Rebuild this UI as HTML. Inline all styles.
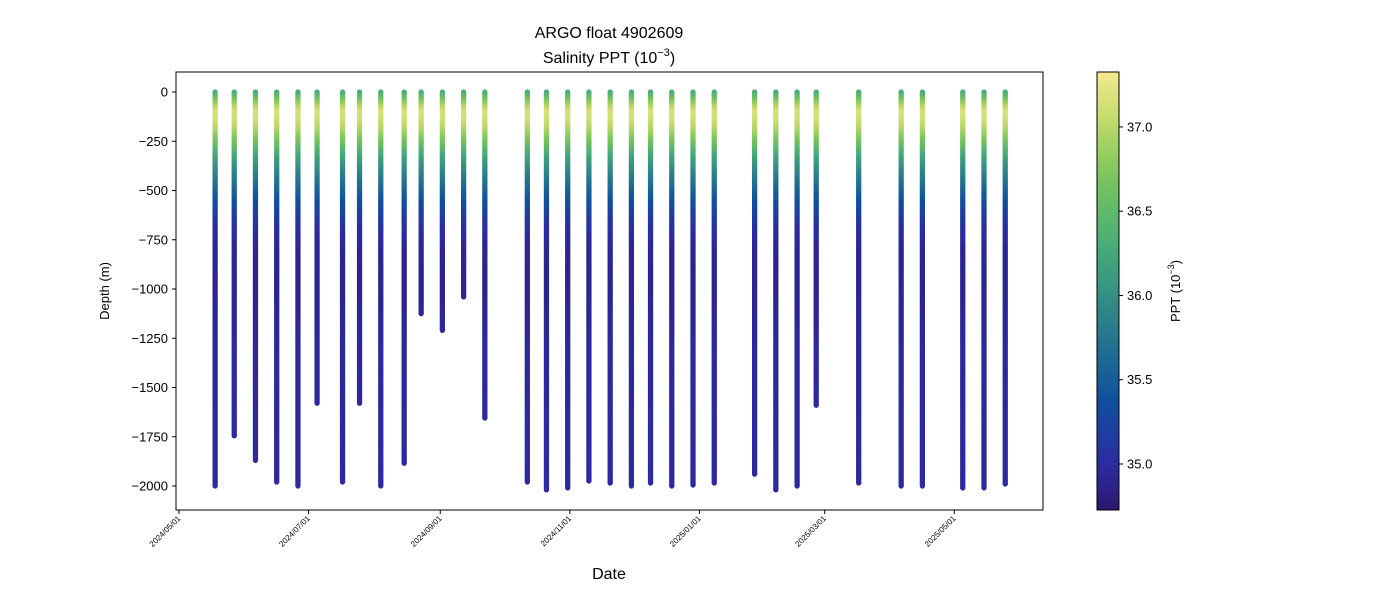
<!DOCTYPE html>
<html><head><meta charset="utf-8"><style>
body{margin:0;background:#fff;font-family:"Liberation Sans","DejaVu Sans",sans-serif}
svg text{font-family:"Liberation Sans","DejaVu Sans",sans-serif}
</style></head><body>
<svg id="chart" width="1400" height="600" viewBox="0 0 1400 600">
<text x="609" y="38" font-size="16" text-anchor="middle">ARGO float 4902609</text>
<text x="609" y="63" font-size="16" text-anchor="middle">Salinity PPT (10<tspan dy="-7" font-size="11">−3</tspan><tspan dy="7">)</tspan></text>
<text x="609" y="579" font-size="16" text-anchor="middle">Date</text>
<text transform="translate(109,291) rotate(-90)" font-size="13" text-anchor="middle">Depth (m)</text>
<g id="profiles"></g>
<rect x="176" y="72" width="867" height="438" fill="none" stroke="#000" stroke-width="1"/>
<g id="yaxis"></g>
<g id="xaxis"></g>
<defs><linearGradient id="cbg" x1="0" y1="1" x2="0" y2="0"></linearGradient></defs>
<rect x="1097" y="72" width="22" height="438" fill="url(#cbg)" stroke="#000" stroke-width="1"/>
<g id="cbaxis"></g>
<text transform="translate(1180,291) rotate(-90)" font-size="13" text-anchor="middle">PPT (10<tspan dy="-6" font-size="9">−3</tspan><tspan dy="6">)</tspan></text>
</svg>
<script>
const profileDays=[17,26,36,46,56,65,77,85,95,106,114,124,134,144,164,173,183,193,203,213,222,232,242,252,271,281,291,300,320,340,350,369,379,389];
const profileMaxDepth=[2000,1745,1870,1980,2000,1580,1980,1580,2000,1885,1125,1210,1040,1655,1980,2020,2010,1975,1985,2000,1985,2000,1995,1985,1940,2020,2000,1590,1985,2000,2000,2010,2010,1990];
const templateDepths=[0,20,60,100,140,190,250,330,420,500,580,680,800,1000,1300,2000];
const templateSal=[36.3,36.5,36.9,37.15,37.1,36.95,36.65,36.2,35.85,35.55,35.3,35.05,34.92,34.9,34.97,34.98];
const yTicks=[0,-250,-500,-750,-1000,-1250,-1500,-1750,-2000];
const xTickLabels=["2024/05/01","2024/07/01","2024/09/01","2024/11/01","2025/01/01","2025/03/01","2025/05/01"];
const xTickDays=[0,61,123,184,245,304,365];
const cbTicks=[35.0,35.5,36.0,36.5,37.0];

const NS="http://www.w3.org/2000/svg";
const xS=d=>179+d*2.124;
const yS=v=>92+(-v)*0.197;
const cMin=34.727,cMax=37.326;
const cbY=s=>510-(s-cMin)/(cMax-cMin)*438;
const stops=[[0,[42,24,108]],[0.1,[45,42,160]],[0.25,[16,80,158]],[0.4,[38,120,142]],[0.6,[70,172,120]],[0.78,[130,200,90]],[0.9,[200,220,110]],[1,[244,233,142]]];
function cmap(s){let t=Math.max(0,Math.min(1,(s-cMin)/(cMax-cMin)));
for(let i=1;i<stops.length;i++){if(t<=stops[i][0]){const a=stops[i-1],b=stops[i];const f=(t-a[0])/(b[0]-a[0]);
return 'rgb('+a[1].map((v,k)=>Math.round(v+(b[1][k]-v)*f)).join(',')+')';}}return 'rgb(244,233,142)';}
function salAt(d){for(let i=1;i<templateDepths.length;i++){if(d<=templateDepths[i]){const f=(d-templateDepths[i-1])/(templateDepths[i]-templateDepths[i-1]);return templateSal[i-1]+(templateSal[i]-templateSal[i-1])*f;}}return templateSal[templateSal.length-1];}
function mk(tag,attrs,parent){const e=document.createElementNS(NS,tag);for(const k in attrs)e.setAttribute(k,attrs[k]);parent.appendChild(e);return e;}

const pg=document.getElementById('profiles');
profileDays.forEach((day,i)=>{
  const g=mk('g',{},pg);
  
  
  const x=xS(day),maxD=profileMaxDepth[i];
  const step=10;
  mk('circle',{cx:x,cy:yS(0),r:2.6,fill:cmap(salAt(0))},g);
  mk('circle',{cx:x,cy:yS(-maxD),r:2.6,fill:cmap(salAt(maxD))},g);
  for(let d=0;d<maxD;d+=step){
    const d2=Math.min(maxD,d+step);
    const y1=yS(-d),y2=yS(-d2);
    mk('rect',{x:x-2.6,y:y1-0.3,width:5.2,height:(y2-y1)+0.8,fill:cmap(salAt((d+d2)/2))},g);
  }
});

const ya=document.getElementById('yaxis');
yTicks.forEach(v=>{const y=yS(v);
  const l=mk('line',{x1:172,x2:176,y1:y,y2:y,stroke:'#000'},ya);
  
  
  const t=mk('text',{x:168,y:y+4.5,'font-size':13,'text-anchor':'end'},ya);t.textContent=(v<0?'−'+(-v):v);
  
  
});
const xa=document.getElementById('xaxis');
xTickDays.forEach((d,i)=>{const x=xS(d);
  const l=mk('line',{x1:x,x2:x,y1:510,y2:514,stroke:'#000'},xa);
  
  
  const t=mk('text',{x:x+2,y:519,'font-size':8,'text-anchor':'end',transform:'rotate(-45 '+(x+2)+' 519)'},xa);t.textContent=xTickLabels[i];
  
  
});
const grad=document.getElementById('cbg');
for(let k=0;k<=20;k++){const s=cMin+(cMax-cMin)*k/20;mk('stop',{offset:(k*5)+'%','stop-color':cmap(s)},grad);}
const cb=document.getElementById('cbaxis');
cbTicks.forEach(s=>{const y=cbY(s);
  const l=mk('line',{x1:1119,x2:1123,y1:y,y2:y,stroke:'#000'},cb);
  
  
  const t=mk('text',{x:1127,y:y+4.5,'font-size':13},cb);t.textContent=s.toFixed(1);
  
  
});
</script>
</body></html>
